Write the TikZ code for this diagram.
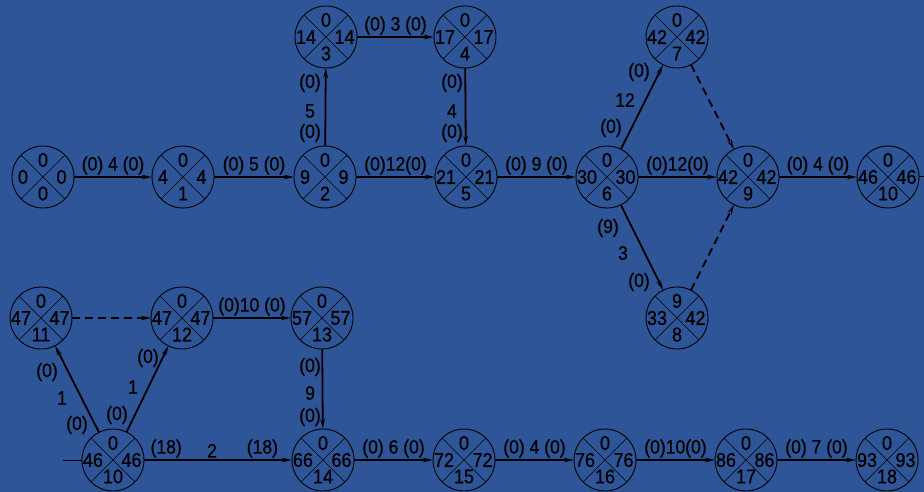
\documentclass[tikz,border=0pt]{standalone}
\usepackage{fontspec}
\setmainfont{Liberation Sans}[FakeStretch=0.9,FakeBold=0.6]
\usetikzlibrary{arrows.meta,calc}
\definecolor{bg}{HTML}{2E5597}
\tikzset{
 evt/.style={circle,draw=black,line width=0.9pt,minimum size=62pt,inner sep=0pt,outer sep=0pt},
 num/.style={font=\fontsize{20}{20}\selectfont,inner sep=0pt,text=black},
 act/.style={line width=1.8pt,-{Stealth[length=10pt,width=4.5pt]}},
 dum/.style={act,dash pattern=on 8pt off 5pt},
 lab/.style={font=\fontsize{19.5}{19.5}\selectfont,inner sep=1.5pt,text=black},
}
\newcommand\evt[8]{%
 \node[evt] (#1) at (#2,#3) {};
 \draw[line width=0.6pt] (#1.45) -- (#1.225) (#1.135) -- (#1.315);
 \node[num] (#1t) at ($(#1)+(0,-17)$) {#4};
 \node[num] (#1l) at ($(#1)+(-20,0)$) {#5};
 \node[num] (#1r) at ($(#1)+(18.5,0)$) {#6};
 \node[num] (#1b) at ($(#1)+(0,16.5)$) {#7};
}
\begin{document}
\begin{tikzpicture}[x=1pt,y=-1pt]
\fill[bg] (0,0) rectangle (924,492);
\useasboundingbox (0,0) rectangle (924,492);
% top part
\evt{n1}{43}{177}{0}{0}{0}{0}{}
\evt{n2}{183}{177}{0}{4}{4}{1}{}
\evt{n3}{325}{177}{0}{9}{9}{2}{}
\evt{n4}{326}{37}{0}{14}{14}{3}{}
\evt{n5}{465}{37}{0}{17}{17}{4}{}
\evt{n6}{466}{177}{0}{21}{21}{5}{}
\evt{n7}{607}{177}{0}{30}{30}{6}{}
\evt{n8}{677}{37}{0}{42}{42}{7}{}
\evt{n9}{677}{318}{9}{33}{42}{8}{}
\evt{n10}{748}{177}{0}{42}{42}{9}{}
\evt{n11}{888}{177}{0}{46}{46}{10}{}
\coordinate (outR) at (924,177);
% bottom part
\evt{m10}{113}{460}{0}{46}{46}{10}{}
\evt{m11}{41}{318}{0}{47}{47}{11}{}
\evt{m12}{182}{318}{0}{47}{47}{12}{}
\evt{m13}{322}{318}{0}{57}{57}{13}{}
\evt{m14}{323}{460}{0}{66}{66}{14}{}
\evt{m15}{464}{460}{0}{72}{72}{15}{}
\evt{m16}{605}{460}{0}{76}{76}{16}{}
\evt{m17}{746}{460}{0}{86}{86}{17}{}
\evt{m18}{887}{460}{0}{93}{93}{18}{}
\coordinate (inL) at (63,460);

% top edges
\draw[act] (n1) -- node[lab,above] (e1) {(0) 4 (0)} (n2);
\draw[act] (n2) -- node[lab,above] (e2) {(0) 5 (0)} (n3);
\draw[act] (n3) -- (n4);
\node[lab] (e3a) at (310,133) {(0)};
\node[lab] (e3b) at (310,111) {5};
\node[lab] (e3c) at (310,83) {(0)};
\draw[act] (n4) -- node[lab,above] (e4) {(0) 3 (0)} (n5);
\draw[act] (n5) -- (n6);
\node[lab] (e5a) at (452,83) {(0)};
\node[lab] (e5b) at (452,111) {4};
\node[lab] (e5c) at (452,133) {(0)};
\draw[act] (n3) -- node[lab,above] (e6) {(0)12(0)} (n6);
\draw[act] (n6) -- node[lab,above] (e7) {(0) 9 (0)} (n7);
\draw[act] (n7) -- (n8);
\node[lab] (e8a) at (611,128) {(0)};
\node[lab] (e8b) at (625,100) {12};
\node[lab] (e8c) at (639,72) {(0)};
\draw[act] (n7) -- node[lab,above] (e9) {(0)12(0)} (n10);
\draw[act] (n7) -- (n9);
\node[lab] (e10a) at (608,228) {(9)};
\node[lab] (e10b) at (623,253) {3};
\node[lab] (e10c) at (639,282) {(0)};
\draw[dum] (n8) -- (n10);
\draw[dum] (n9) -- (n10);
\draw[act] (n10) -- node[lab,above] (e11) {(0) 4 (0)} (n11);
\draw[line width=1pt] (n11) -- (outR);

% bottom edges
\draw[line width=1pt] (inL) -- (m10);
\draw[act] (m10) -- (m11);
\node[lab] (f1a) at (77,425) {(0)};
\node[lab] (f1b) at (62,398) {1};
\node[lab] (f1c) at (47,372) {(0)};
\draw[act] (m10) -- (m12);
\node[lab] (f2a) at (117,415) {(0)};
\node[lab] (f2b) at (133,387) {1};
\node[lab] (f2c) at (148,358) {(0)};
\draw[dum] (m11) -- (m12);
\draw[act] (m12) -- node[lab,above] (f3) {(0)10 (0)} (m13);
\draw[act] (m13) -- (m14);
\node[lab] (f4a) at (310,367) {(0)};
\node[lab] (f4b) at (310,393) {9};
\node[lab] (f4c) at (310,417) {(0)};
\draw[act] (m10) -- node[lab,above,pos=0.15] (f5a) {(18)}
  node[lab,above,pos=0.46] (f5b) {2}
  node[lab,above,pos=0.8] (f5c) {(18)} (m14);
\draw[act] (m14) -- node[lab,above] (f6) {(0) 6 (0)} (m15);
\draw[act] (m15) -- node[lab,above] (f7) {(0) 4 (0)} (m16);
\draw[act] (m16) -- node[lab,above] (f8) {(0)10(0)} (m17);
\draw[act] (m17) -- node[lab,above] (f9) {(0) 7 (0)} (m18);
\end{tikzpicture}
\end{document}
